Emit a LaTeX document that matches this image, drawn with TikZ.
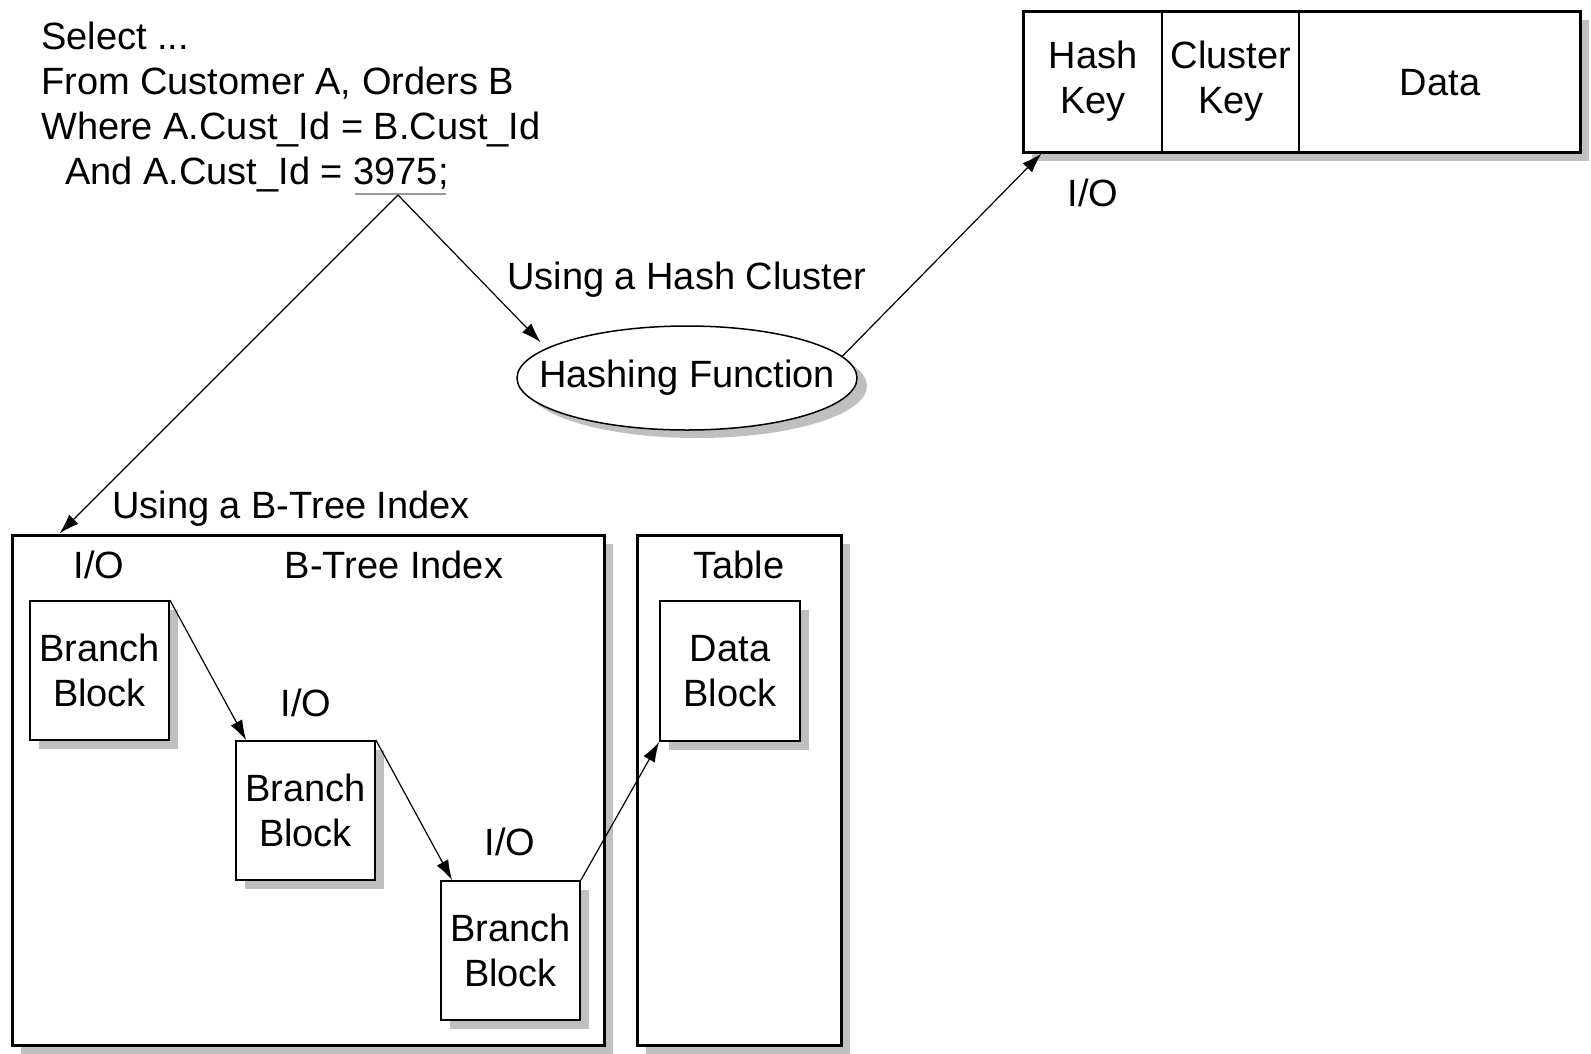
\documentclass[tikz,border=0pt]{standalone}
\usepackage{fontspec}
\setmainfont{Liberation Sans}
\usetikzlibrary{arrows.meta,shadows,shapes.geometric,calc}
\begin{document}
\begin{tikzpicture}[x=1pt,y=-1pt,
  every node/.style={font=\fontsize{38}{45}\selectfont, inner sep=0pt, align=center},
  shad/.style={drop shadow={shadow xshift=9pt,shadow yshift=-9pt,fill=black!25,opacity=1}},
  bigbox/.style={draw,line width=3pt,fill=white,shad},
  blockbox/.style={draw,line width=1.8pt,fill=white,shad,minimum width=139pt,minimum height=139pt},
  conn/.style={line width=1.2pt,-{Latex[length=20pt,width=13pt]}}]
\useasboundingbox[fill=white] (0,0) rectangle (1591,1053);

% SQL text
\node[anchor=base west] (sql1) at (41,49) {Select ...};
\node[anchor=base west] (sql2) at (41,94) {From Customer A, Orders B};
\node[anchor=base west] (sql3) at (41,139) {Where A.Cust\_Id = B.Cust\_Id};
\node[anchor=base west] (sql4) at (65,184) {And A.Cust\_Id = 3975;};
\draw[black!40,line width=1.5pt] (355,194) -- (446,194);
\coordinate (q) at (398,195);

% hash cluster table
\node[bigbox,minimum width=557pt,minimum height=141pt] (hashtab) at (1301.5,81.5) {};
\draw[line width=2pt] ($(hashtab.north west)+(140,0)$) -- ($(hashtab.south west)+(140,0)$);
\draw[line width=2pt] ($(hashtab.north west)+(277,0)$) -- ($(hashtab.south west)+(277,0)$);
\node (hk) at (1093,81) {Hash\\Key};
\node (ck) at (1231,81) {Cluster\\Key};
\node (dt) at (1440,83) {Data};
\node (io0) at (1093,193) {I/O};

% hashing function
\node (uhc) [anchor=west] at (507,280) {Using a Hash Cluster};
\node[ellipse,draw,line width=1.5pt,fill=white,drop shadow={shadow xshift=10pt,shadow yshift=-8pt,fill=black!25,opacity=1},inner xsep=-30pt,inner ysep=0pt,minimum width=340pt,minimum height=104pt] (hash) at (687,378) {Hashing Function};

% B-tree index
\node (ubt) [anchor=west] at (112,509) {Using a B-Tree Index};
\node[bigbox,minimum width=592pt,minimum height=510pt] (btree) at (308,790) {};
\node[bigbox,minimum width=204pt,minimum height=510pt] (tbl) at (739,790) {};
\node (io1) at (99,565) {I/O};
\node (bti) at (394,565) {B-Tree Index};
\node (tbllbl) at (739,565) {Table};

\node[blockbox] (bb1) at (99.5,670.5) {Branch\\Block};
\node[blockbox] (bb2) at (305.5,810.5) {Branch\\Block};
\node[blockbox] (bb3) at (510.5,950.5) {Branch\\Block};
\node[blockbox,minimum width=140pt,minimum height=140pt] (data) at (730,671) {Data\\Block};
\node (io2) at (306,703) {I/O};
\node (io3) at (510,842) {I/O};

% connectors
\draw[conn] (q) -- ($(btree.north west)+(49,0)$);
\draw[conn,shorten >=8pt] (q) -- (hash.168);
\draw[conn] (hash.8) -- ($(hashtab.south west)+(20,0)$);
\draw[conn] (bb1.north east) -- ($(bb2.north west)+(11,0)$);
\draw[conn] (bb2.north east) -- ($(bb3.north west)+(12,0)$);
\draw[conn] (bb3.north east) -- (data.south west);
\end{tikzpicture}
\end{document}
